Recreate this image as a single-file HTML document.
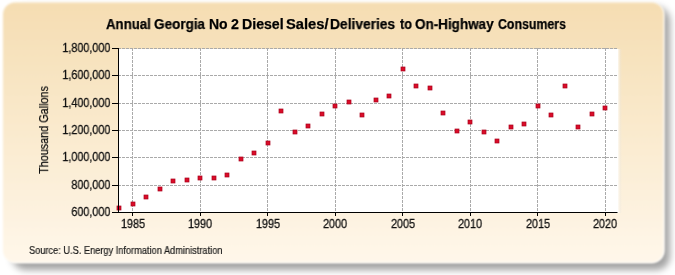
<!DOCTYPE html>
<html><head><meta charset="utf-8"><style>
html,body{margin:0;padding:0;width:675px;height:275px;overflow:hidden;background:#fff;}
body{position:relative;font-family:"Liberation Sans",sans-serif;}
#panel{position:absolute;left:0;top:0;}
#plot{position:absolute;left:118.5px;top:48.5px;width:499px;height:164px;background:#fff;}
#strip{position:absolute;left:617.5px;top:48.5px;width:4px;height:164px;background:linear-gradient(to right,rgba(255,255,255,0.7),rgba(235,232,225,0.35) 55%,rgba(255,255,255,0));}
svg{position:absolute;left:0;top:0;}
.g{stroke:#aaaaaa;stroke-width:1;stroke-dasharray:3 1;}
.a{stroke:#000;stroke-width:1;}
.m{fill:#DA0C28;stroke:#A8001C;stroke-width:0.7;}
.t{position:absolute;white-space:nowrap;will-change:transform;}
.title{-webkit-text-stroke:0.25px #000;top:16px;font-size:14px;font-weight:bold;color:#000;transform-origin:0 50%;}
.yl{-webkit-text-stroke:0.3px #111;position:absolute;will-change:transform;right:565px;font-size:12px;color:#111;line-height:14px;transform:scaleX(0.9);transform-origin:100% 50%;}
.xl{-webkit-text-stroke:0.3px #111;position:absolute;will-change:transform;top:217px;width:40px;text-align:center;font-size:12px;color:#111;line-height:14px;transform:scaleX(0.9);}
#ytitle{-webkit-text-stroke:0.25px #111;position:absolute;will-change:transform;left:43.8px;top:129.5px;font-size:12px;color:#111;transform:translate(-50%,-50%) rotate(-90deg) scaleX(0.9);white-space:nowrap;line-height:14px;}
#src{-webkit-text-stroke:0.2px #1a1a1a;left:29px;top:245px;font-size:10px;color:#1a1a1a;transform:scaleX(0.923);transform-origin:0 50%;}
</style></head><body>
<svg id="panel" width="675" height="275">
<defs>
<linearGradient id="bg" x1="0" y1="0" x2="0" y2="1"><stop offset="0" stop-color="#F5DDB2"/><stop offset="1" stop-color="#FFF7EA"/></linearGradient>
<filter id="sh" x="-5%" y="-10%" width="110%" height="120%"><feGaussianBlur stdDeviation="3.5"/></filter>
<filter id="soft" x="-2%" y="-5%" width="104%" height="110%"><feGaussianBlur stdDeviation="0.8"/></filter>
</defs>
<rect x="12" y="7" width="658" height="263" rx="14" fill="#000" fill-opacity="0.36" filter="url(#sh)"/>
<rect x="2.5" y="2" width="662" height="261" rx="13" fill="#fff" filter="url(#soft)"/>
<rect x="3" y="2.5" width="660.5" height="260" rx="12" fill="url(#bg)" filter="url(#soft)"/>
</svg>
<div id="plot"></div><div id="strip"></div>
<svg width="675" height="275" viewBox="0 0 675 275">
<line x1="118" y1="48.5" x2="617.5" y2="48.5" class="g"/>
<line x1="118" y1="75.5" x2="617.5" y2="75.5" class="g"/>
<line x1="118" y1="103.5" x2="617.5" y2="103.5" class="g"/>
<line x1="118" y1="130.5" x2="617.5" y2="130.5" class="g"/>
<line x1="118" y1="157.5" x2="617.5" y2="157.5" class="g"/>
<line x1="118" y1="185.5" x2="617.5" y2="185.5" class="g"/>
<line x1="132.5" y1="48" x2="132.5" y2="212.5" class="g"/>
<line x1="200.5" y1="48" x2="200.5" y2="212.5" class="g"/>
<line x1="267.5" y1="48" x2="267.5" y2="212.5" class="g"/>
<line x1="335.5" y1="48" x2="335.5" y2="212.5" class="g"/>
<line x1="402.5" y1="48" x2="402.5" y2="212.5" class="g"/>
<line x1="470.5" y1="48" x2="470.5" y2="212.5" class="g"/>
<line x1="537.5" y1="48" x2="537.5" y2="212.5" class="g"/>
<line x1="605.5" y1="48" x2="605.5" y2="212.5" class="g"/>
<rect x="117.00" y="206.00" width="4" height="4" class="m"/>
<rect x="131.00" y="202.00" width="4" height="4" class="m"/>
<rect x="144.00" y="195.00" width="4" height="4" class="m"/>
<rect x="158.00" y="187.00" width="4" height="4" class="m"/>
<rect x="171.00" y="179.00" width="4" height="4" class="m"/>
<rect x="185.00" y="178.00" width="4" height="4" class="m"/>
<rect x="198.00" y="176.00" width="4" height="4" class="m"/>
<rect x="212.00" y="176.00" width="4" height="4" class="m"/>
<rect x="225.00" y="173.00" width="4" height="4" class="m"/>
<rect x="239.00" y="157.00" width="4" height="4" class="m"/>
<rect x="252.00" y="151.00" width="4" height="4" class="m"/>
<rect x="266.00" y="141.00" width="4" height="4" class="m"/>
<rect x="279.00" y="109.00" width="4" height="4" class="m"/>
<rect x="293.00" y="130.00" width="4" height="4" class="m"/>
<rect x="306.00" y="124.00" width="4" height="4" class="m"/>
<rect x="320.00" y="112.00" width="4" height="4" class="m"/>
<rect x="333.00" y="104.00" width="4" height="4" class="m"/>
<rect x="347.00" y="100.00" width="4" height="4" class="m"/>
<rect x="360.00" y="113.00" width="4" height="4" class="m"/>
<rect x="374.00" y="98.00" width="4" height="4" class="m"/>
<rect x="387.00" y="94.00" width="4" height="4" class="m"/>
<rect x="401.00" y="67.00" width="4" height="4" class="m"/>
<rect x="414.00" y="84.00" width="4" height="4" class="m"/>
<rect x="428.00" y="86.00" width="4" height="4" class="m"/>
<rect x="441.00" y="111.00" width="4" height="4" class="m"/>
<rect x="455.00" y="129.00" width="4" height="4" class="m"/>
<rect x="468.00" y="120.00" width="4" height="4" class="m"/>
<rect x="482.00" y="130.00" width="4" height="4" class="m"/>
<rect x="495.00" y="139.00" width="4" height="4" class="m"/>
<rect x="509.00" y="125.00" width="4" height="4" class="m"/>
<rect x="522.00" y="122.00" width="4" height="4" class="m"/>
<rect x="536.00" y="104.00" width="4" height="4" class="m"/>
<rect x="549.00" y="113.00" width="4" height="4" class="m"/>
<rect x="563.00" y="84.00" width="4" height="4" class="m"/>
<rect x="576.00" y="125.00" width="4" height="4" class="m"/>
<rect x="590.00" y="112.00" width="4" height="4" class="m"/>
<rect x="603.00" y="106.00" width="4" height="4" class="m"/>
<line x1="118.5" y1="48.0" x2="118.5" y2="213.0" class="a"/>
<line x1="118.0" y1="212.5" x2="617.5" y2="212.5" class="a"/>
<line x1="112" y1="48.5" x2="118.5" y2="48.5" class="a"/>
<line x1="112" y1="75.5" x2="118.5" y2="75.5" class="a"/>
<line x1="112" y1="103.5" x2="118.5" y2="103.5" class="a"/>
<line x1="112" y1="130.5" x2="118.5" y2="130.5" class="a"/>
<line x1="112" y1="157.5" x2="118.5" y2="157.5" class="a"/>
<line x1="112" y1="185.5" x2="118.5" y2="185.5" class="a"/>
<line x1="112" y1="212.5" x2="118.5" y2="212.5" class="a"/>
<line x1="132.5" y1="212.5" x2="132.5" y2="216.0" class="a"/>
<line x1="200.5" y1="212.5" x2="200.5" y2="216.0" class="a"/>
<line x1="267.5" y1="212.5" x2="267.5" y2="216.0" class="a"/>
<line x1="335.5" y1="212.5" x2="335.5" y2="216.0" class="a"/>
<line x1="402.5" y1="212.5" x2="402.5" y2="216.0" class="a"/>
<line x1="470.5" y1="212.5" x2="470.5" y2="216.0" class="a"/>
<line x1="537.5" y1="212.5" x2="537.5" y2="216.0" class="a"/>
<line x1="605.5" y1="212.5" x2="605.5" y2="216.0" class="a"/>
</svg>
<div class="t title" style="left:105.5px;transform:scaleX(0.945)">Annual</div><div class="t title" style="left:154.1px;transform:scaleX(0.965)">Georgia</div><div class="t title" style="left:209.0px;transform:scaleX(1.000)">No</div><div class="t title" style="left:230.6px;transform:scaleX(1.014)">2</div><div class="t title" style="left:241.7px;transform:scaleX(1.010)">Diesel</div><div class="t title" style="left:286.0px;transform:scaleX(1.051)">Sales/</div><div class="t title" style="left:330.3px;transform:scaleX(0.985)">Deliveries</div><div class="t title" style="left:399.9px;transform:scaleX(0.900)">to</div><div class="t title" style="left:414.9px;transform:scaleX(0.962)">On-Highway</div><div class="t title" style="left:498.2px;transform:scaleX(0.882)">Consumers</div>
<div class="yl" style="top:41.0px">1,800,000</div>
<div class="yl" style="top:68.0px">1,600,000</div>
<div class="yl" style="top:96.0px">1,400,000</div>
<div class="yl" style="top:123.0px">1,200,000</div>
<div class="yl" style="top:150.0px">1,000,000</div>
<div class="yl" style="top:178.0px">800,000</div>
<div class="yl" style="top:205.0px">600,000</div>
<div class="xl" style="left:112.6px">1985</div>
<div class="xl" style="left:180.1px">1990</div>
<div class="xl" style="left:247.6px">1995</div>
<div class="xl" style="left:315.1px">2000</div>
<div class="xl" style="left:382.6px">2005</div>
<div class="xl" style="left:450.1px">2010</div>
<div class="xl" style="left:517.6px">2015</div>
<div class="xl" style="left:585.1px">2020</div>
<div id="ytitle">Thousand Gallons</div>
<div class="t" id="src">Source: U.S. Energy Information Administration</div>
</body></html>
